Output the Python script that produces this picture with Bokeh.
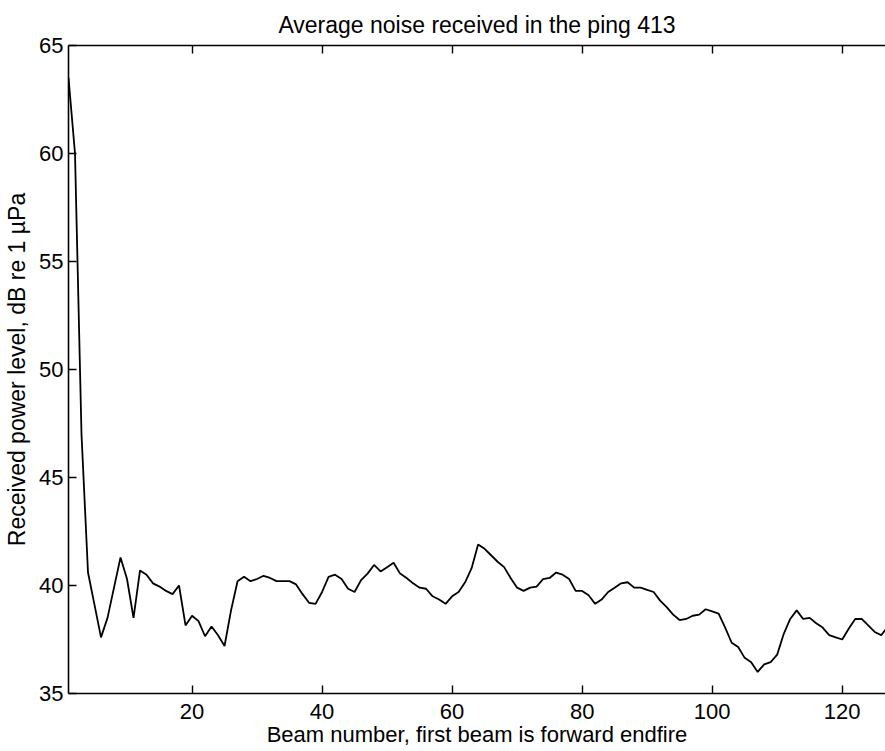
from bokeh.plotting import figure
from bokeh.models import LinearAxis, FixedTicker, Range1d
from bokeh.embed import file_html
from bokeh.resources import INLINE

beams = list(range(1, 128))
noise_db = [
    63.5, 60.0, 47.0, 40.6, 39.1, 37.6, 38.5, 39.9, 41.3, 40.3,
    38.5, 40.7, 40.5, 40.1, 39.95, 39.75, 39.6, 40.0, 38.15, 38.6,
    38.35, 37.65, 38.1, 37.7, 37.2, 38.85, 40.2, 40.4, 40.2, 40.3,
    40.45, 40.35, 40.2, 40.2, 40.2, 40.05, 39.6, 39.2, 39.15, 39.7,
    40.4, 40.5, 40.3, 39.85, 39.7, 40.25, 40.55, 40.95, 40.65, 40.85,
    41.05, 40.55, 40.35, 40.1, 39.9, 39.85, 39.5, 39.35, 39.15, 39.5,
    39.7, 40.15, 40.8, 41.9, 41.7, 41.4, 41.1, 40.85, 40.35, 39.9,
    39.75, 39.9, 39.95, 40.3, 40.35, 40.6, 40.5, 40.3, 39.75, 39.75,
    39.55, 39.15, 39.35, 39.7, 39.9, 40.1, 40.15, 39.9, 39.9, 39.8,
    39.7, 39.3, 39.0, 38.65, 38.4, 38.45, 38.6, 38.65, 38.9, 38.8,
    38.7, 38.05, 37.35, 37.15, 36.65, 36.45, 36.0, 36.35, 36.45, 36.8,
    37.75, 38.45, 38.85, 38.45, 38.5, 38.25, 38.05, 37.7, 37.6, 37.5,
    38.0, 38.45, 38.45, 38.15, 37.85, 37.7, 38.1,
]
x_ticks = [20, 40, 60, 80, 100, 120]
y_ticks = [35, 40, 45, 50, 55, 60, 65]

title_text = "Average noise received in the ping 413"
x_label = "Beam number, first beam is forward endfire"
y_label = "Received power level, dB re 1 \u00b5Pa"

FONT = "Liberation Sans"

p = figure(width=885, height=751, output_backend="svg", toolbar_location=None,
           x_range=Range1d(1, 126.66), y_range=Range1d(35, 65),
           min_border_left=68, min_border_right=0, min_border_top=45, min_border_bottom=58,
           title=title_text)
p.outline_line_color = None
p.grid.visible = False
p.background_fill_color = "white"
p.border_fill_color = "white"

p.title.text_font = FONT
p.title.text_font_size = "23px"
p.title.text_font_style = "normal"
p.title.align = "center"
p.title.standoff = 16
p.title.text_color = "black"

p.line(beams, noise_db, line_color="black", line_width=1.8)

def style_axis(ax, ticks):
    ax.ticker = FixedTicker(ticks=ticks)
    ax.axis_line_color = "black"
    ax.axis_line_width = 1.6
    ax.major_tick_line_color = "black"
    ax.major_tick_line_width = 1.4
    ax.major_tick_in = 8
    ax.major_tick_out = 0
    ax.minor_tick_line_color = None
    ax.major_label_text_font = FONT
    ax.major_label_text_font_size = "22px"
    ax.major_label_text_color = "black"
    ax.axis_label_text_font = FONT
    ax.axis_label_text_font_size = "22px"
    ax.axis_label_text_font_style = "normal"
    ax.axis_label_text_color = "black"

xa = p.xaxis[0]
style_axis(xa, x_ticks)
xa.axis_label = x_label
xa.major_label_standoff = 10
xa.axis_label_standoff = 0
xa.major_label_text_line_height = 0.9
xa.axis_label_text_line_height = 0.9

ya = p.yaxis[0]
style_axis(ya, y_ticks)
ya.axis_label = y_label
ya.axis_label_text_font_size = "23px"
ya.major_label_standoff = 5
ya.axis_label_standoff = 6

top = LinearAxis()
style_axis(top, x_ticks)
top.major_label_overrides = {t: "" for t in x_ticks}
top.major_label_standoff = 0
p.add_layout(top, "above")

open("out.html", "w").write(file_html(p, INLINE))
